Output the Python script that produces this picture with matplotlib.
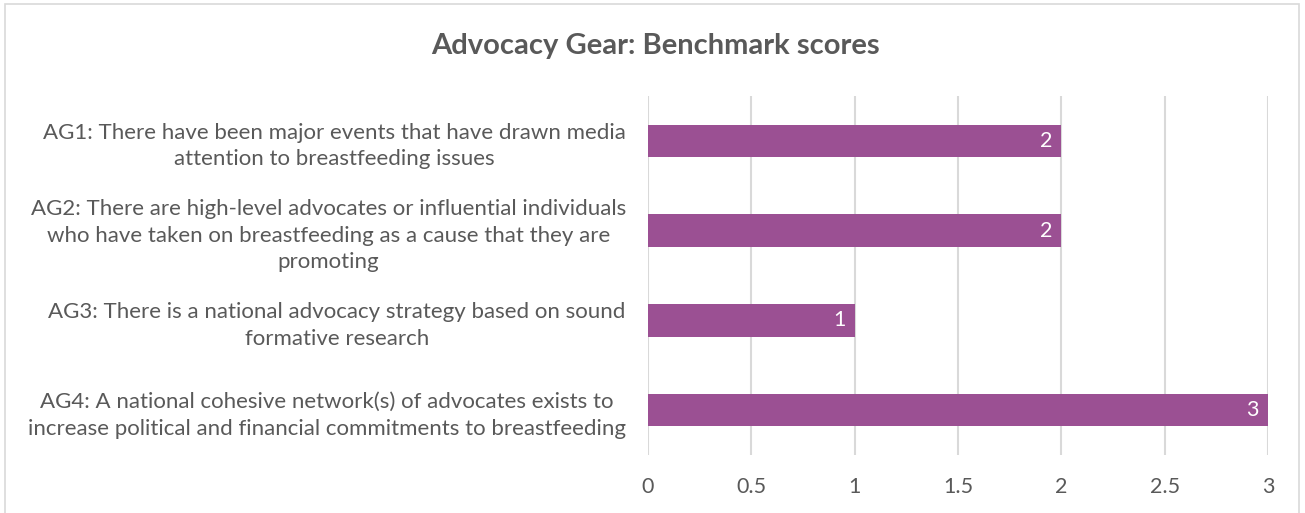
import matplotlib.pyplot as plt
from matplotlib.patches import Rectangle

labels = [
    "AG1: There have been major events that have drawn media\nattention to breastfeeding issues",
    "AG2: There are high-level advocates or influential individuals\nwho have taken on breastfeeding as a cause that they are\npromoting",
    "AG3: There is a national advocacy strategy based on sound\nformative research",
    "AG4: A national cohesive network(s) of advocates exists to\nincrease political and financial commitments to breastfeeding",
]
scores = [2, 2, 1, 3]
xticks = [0, 0.5, 1, 1.5, 2, 2.5, 3]
xtick_labels = ["0", "0.5", "1", "1.5", "2", "2.5", "3"]

plt.rcParams['font.family'] = ['Lato', 'DejaVu Sans']
grey = "#595959"

fig = plt.figure(figsize=(13.05, 5.13), dpi=100)
ax = fig.add_axes([648 / 1305, 58 / 513, 620 / 1305, 359 / 513])

pos = list(range(len(scores)))
ax.barh(pos, scores, height=0.36, color="#9B5093", zorder=3)
for p, s in zip(pos, scores):
    ax.text(s - 0.045, p, str(s), ha="right", va="center", color="white", fontsize=15.5)

ax.set_ylim(3.5, -0.5)
ax.set_xlim(0, 3)
ax.set_yticks(pos)
ax.set_yticklabels(labels, fontsize=16, color=grey, multialignment="center",
                   linespacing=1.4)
ax.set_xticks(xticks)
ax.set_xticklabels(xtick_labels, fontsize=15.5, color=grey)
ax.tick_params(axis="y", length=0, pad=16)
ax.tick_params(axis="x", length=0, pad=16)
ax.grid(axis="x", color="#D9D9D9", linewidth=1.5, zorder=0)
for sp in ax.spines.values():
    sp.set_visible(False)

fig.text(0.502, 1 - 46 / 513, "Advocacy Gear: Benchmark scores", ha="center", va="center",
         fontsize=21, fontweight="bold", color=grey)

fig.patches.append(Rectangle((5 / 1305, -0.1), 1294 / 1305, 1.1 - 4 / 513, transform=fig.transFigure,
                             fill=False, edgecolor="#D9D9D9", linewidth=1.2))

fig.savefig("out.png", dpi=100)
